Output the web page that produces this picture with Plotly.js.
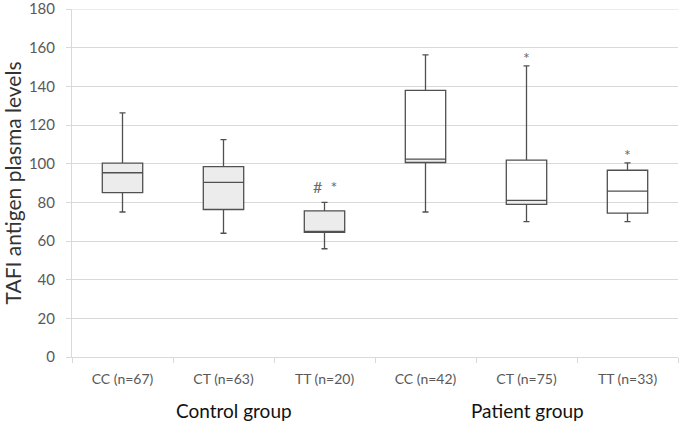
<!DOCTYPE html>
<html>
<head>
<meta charset="utf-8">
<script src="https://cdn.plot.ly/plotly-3.0.1.min.js"></script>
<style>
html,body{margin:0;padding:0;background:#fff;}
#chart{width:682px;height:426px;}
</style>
</head>
<body>
<div id="chart"></div>
<script>
// ---- data ----
const categories = ["CC (n=67)", "CT (n=63)", "TT (n=20)", "CC (n=42)", "CT (n=75)", "TT (n=33)"];
const groups = ["Control group", "Patient group"];
const lowerWhisker = [75, 64, 56, 75, 70, 70];
const q1Values     = [85, 76.3, 64.5, 100.6, 78.9, 74.4];
const medianValues = [95.3, 90.3, 65, 102.4, 81, 85.8];
const q3Values     = [100.3, 98.5, 75.6, 137.9, 101.8, 96.6];
const upperWhisker = [126.3, 112.4, 80, 156.3, 150.6, 100.4];
// significance markers: category, label, value at which it sits
const markCategories = ["TT (n=20)", "CT (n=75)", "TT (n=33)"];
const markLabels = ["#  *", "*", "*"];
const markValues = [88, 155, 105];
const yMax = 180;

// shaded part of each box: control boxes fully shaded, patient boxes shaded q1..median
const shadeTop = [q3Values[0], q3Values[1], q3Values[2], medianValues[3], medianValues[4], q1Values[5]];

const font = "Lato, 'Open Sans', 'Liberation Sans', sans-serif";
const gray = "#d9d9d9";
const txt = "#595959";

const shadeTrace = {
  type: "bar",
  x: categories,
  base: q1Values,
  y: shadeTop.map((t, i) => t - q1Values[i]),
  width: 0.4,
  marker: {color: "#ececec", line: {width: 0}},
  hoverinfo: "skip",
  showlegend: false
};

const boxTrace = {
  type: "box",
  x: categories,
  q1: q1Values,
  median: medianValues,
  q3: q3Values,
  lowerfence: lowerWhisker,
  upperfence: upperWhisker,
  width: 0.4,
  whiskerwidth: 0.15,
  fillcolor: "rgba(0,0,0,0)",
  line: {color: "#505050", width: 1.3},
  boxpoints: false,
  showlegend: false
};

const annotations = markCategories.map((c, i) => ({
  x: c, y: markValues[i], xref: "x", yref: "y",
  text: markLabels[i], showarrow: false,
  font: {family: font, size: 16, color: "#6a6a6a"},
  xanchor: "center", yanchor: "middle"
}));
annotations.push({
  x: 0.267, y: -0.155, xref: "paper", yref: "paper", text: groups[0], showarrow: false,
  font: {family: font, size: 19, color: "#111"}, xanchor: "center", yanchor: "middle"
});
annotations.push({
  x: 0.752, y: -0.155, xref: "paper", yref: "paper", text: groups[1], showarrow: false,
  font: {family: font, size: 19, color: "#111"}, xanchor: "center", yanchor: "middle"
});

const layout = {
  width: 682, height: 426,
  margin: {l: 72, r: 4, t: 9, b: 69},
  paper_bgcolor: "#fff", plot_bgcolor: "#fff",
  font: {family: font, color: txt},
  barmode: "overlay",
  xaxis: {
    type: "category",
    categoryorder: "array", categoryarray: categories,
    range: [-0.5, 5.5],
    showgrid: false,
    showline: true, linecolor: gray, linewidth: 1,
    ticks: "outside", tickson: "boundaries", ticklen: 5, tickcolor: gray,
    ticklabelstandoff: 9,
    tickfont: {family: font, size: 14, color: txt},
    zeroline: false, fixedrange: true
  },
  yaxis: {
    range: [0, yMax], tick0: 0, dtick: 20,
    showgrid: true, gridcolor: gray, gridwidth: 1,
    showline: true, linecolor: gray, linewidth: 1,
    ticks: "outside", ticklen: 5, tickcolor: gray,
    ticklabelstandoff: 8,
    ticklabeloverflow: "allow",
    tickfont: {family: font, size: 15, color: txt},
    zeroline: false,
    automargin: false,
    title: {text: "TAFI antigen plasma levels", font: {family: font, size: 21, color: "#333"}, standoff: 7}
  },
  shapes: [{
    type: "line", xref: "paper", yref: "y", x0: 0, x1: 1, y0: yMax, y1: yMax,
    line: {color: gray, width: 1}, layer: "below"
  }],
  annotations: annotations
};

Plotly.newPlot("chart", [shadeTrace, boxTrace], layout, {displayModeBar: false, staticPlot: true});
</script>
</body>
</html>
